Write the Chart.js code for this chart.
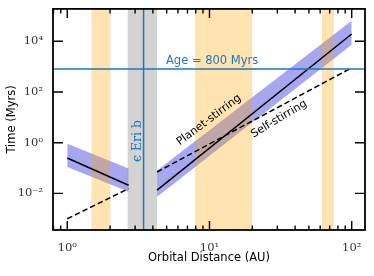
<!DOCTYPE html>
<html><head><meta charset="utf-8">
<script src="https://cdn.jsdelivr.net/npm/chart.js@4/dist/chart.umd.min.js"></script>
<style>html,body{margin:0;padding:0;background:#fff}canvas{display:block}</style>
</head><body>
<canvas id="c" width="374" height="276" style="width:374px;height:276px"></canvas>
<script>
// ---- data ----
const xTickValues = [1, 10, 100];
const yTickValues = [1e-2, 1, 1e2, 1e4];
const xRange = [0.794, 124];
const yRange = [3.6e-4, 1.9e5];

const planetInner = [{x: 1, y: 0.25}, {x: 2.7, y: 0.021}];
const planetOuter = [{x: 4.28, y: 0.0135}, {x: 100, y: 19500}];
const selfInner = [{x: 1, y: 0.001}, {x: 2.7, y: 0.0155}];
const selfOuter = [{x: 4.28, y: 0.07}, {x: 100, y: 900}];
const bandInnerUpper = [{x: 1, y: 0.91}, {x: 2.7, y: 0.095}];
const bandInnerLower = [{x: 1, y: 0.11}, {x: 2.7, y: 0.0115}];
const bandOuterUpper = [{x: 4.28, y: 0.081}, {x: 100, y: 65000}];
const bandOuterLower = [{x: 4.28, y: 0.0074}, {x: 100, y: 7400}];

const beltSpans = [[1.48, 2.01], [7.9, 20], [61.8, 75]];
const planetSpan = [2.66, 4.28];
const planetDistance = 3.44;
const systemAge = 800;

const sup = {'-':'⁻','0':'⁰','1':'¹','2':'²','3':'³','4':'⁴','5':'⁵','6':'⁶','7':'⁷','8':'⁸','9':'⁹'};
function powLabel(v) {
  const e = Math.round(Math.log10(v));
  return '10' + String(e).split('').map(c => sup[c]).join('');
}

const BLUE = '#1f77b4';
const BAND = 'rgba(60,60,220,0.45)';
const ORANGE = 'rgba(255,165,0,0.3)';

const overlay = {
  id: 'overlay',
  beforeDatasetsDraw(chart) {
    const {ctx, chartArea: a, scales: {x}} = chart;
    ctx.save();
    ctx.fillStyle = '#d3d3d3';
    const x0 = x.getPixelForValue(planetSpan[0]), x1 = x.getPixelForValue(planetSpan[1]);
    ctx.fillRect(x0, a.top, x1 - x0, a.bottom - a.top);
    ctx.restore();
  },
  afterDatasetDraw(chart, args) {
    if (!chart.data.datasets[args.index].orangeAfter) return;
    const {ctx, chartArea: a, scales: {x}} = chart;
    ctx.save();
    ctx.fillStyle = ORANGE;
    beltSpans.forEach(s => {
      const x0 = x.getPixelForValue(s[0]), x1 = x.getPixelForValue(s[1]);
      ctx.fillRect(x0, a.top, x1 - x0, a.bottom - a.top);
    });
    ctx.restore();
  },
  afterDatasetsDraw(chart) {
    const {ctx, chartArea: a, scales: {x, y}} = chart;
    ctx.save();
    // reference lines
    ctx.strokeStyle = BLUE; ctx.lineWidth = 1.5;
    const xe = x.getPixelForValue(planetDistance);
    ctx.beginPath(); ctx.moveTo(xe, a.top); ctx.lineTo(xe, a.bottom); ctx.stroke();
    const ya = y.getPixelForValue(systemAge);
    ctx.beginPath(); ctx.moveTo(a.left, ya); ctx.lineTo(a.right, ya); ctx.stroke();
    // texts
    ctx.fillStyle = BLUE;
    ctx.font = '11.5px "DejaVu Sans"';
    ctx.textAlign = 'left'; ctx.textBaseline = 'alphabetic';
    ctx.fillText('Age = 800 Myrs', 166, ya - 5);
    ctx.save();
    ctx.translate(xe - 6, 141);
    ctx.rotate(-Math.PI / 2);
    ctx.font = '12.5px "DejaVu Serif"';
    ctx.textAlign = 'center'; ctx.textBaseline = 'middle';
    ctx.fillText('ϵ Eri b', 0, 0);
    ctx.restore();
    ctx.fillStyle = '#000';
    ctx.font = '11px "DejaVu Sans"';
    ctx.textAlign = 'center'; ctx.textBaseline = 'middle';
    ctx.save(); ctx.translate(209, 120); ctx.rotate(-37 * Math.PI / 180);
    ctx.fillText('Planet-stirring', 0, 0); ctx.restore();
    ctx.save(); ctx.translate(279, 119); ctx.rotate(-31 * Math.PI / 180);
    ctx.fillText('Self-stirring', 0, 0); ctx.restore();
    // frame
    ctx.strokeStyle = '#000'; ctx.lineWidth = 1.8;
    ctx.strokeRect(a.left, a.top, a.right - a.left, a.bottom - a.top);
    // ticks (inward)
    ctx.lineWidth = 1.4;
    const majL = 9, minL = 4.5;
    const lo = Math.floor(Math.log10(xRange[0])), hi = Math.ceil(Math.log10(xRange[1]));
    for (let d = lo; d <= hi; d++) {
      for (let m = 1; m <= 9; m++) {
        const v = m * Math.pow(10, d);
        if (v < xRange[0] || v > xRange[1]) continue;
        const px = x.getPixelForValue(v);
        const L = m === 1 ? majL : minL;
        ctx.beginPath();
        ctx.moveTo(px, a.bottom); ctx.lineTo(px, a.bottom - L);
        ctx.moveTo(px, a.top); ctx.lineTo(px, a.top + L);
        ctx.stroke();
      }
    }
    yTickValues.forEach(v => {
      const py = y.getPixelForValue(v);
      ctx.beginPath();
      ctx.moveTo(a.left, py); ctx.lineTo(a.left + majL + 1, py);
      ctx.moveTo(a.right, py); ctx.lineTo(a.right - majL - 1, py);
      ctx.stroke();
    });
    ctx.restore();
  }
};

const line = (data, dashed) => ({
  data, borderColor: '#000', borderWidth: 1.5, pointRadius: 0, fill: false,
  borderDash: dashed ? [5.5, 3] : [], order: 1, tension: 0
});
const band = (data, fill, extra) => Object.assign({
  data, borderWidth: 0, borderColor: 'rgba(0,0,0,0)', backgroundColor: BAND,
  pointRadius: 0, fill, order: 2
}, extra || {});

new Chart(document.getElementById('c'), {
  type: 'line',
  data: {
    datasets: [
      line(planetInner, false),
      line(planetOuter, false),
      line(selfInner, true),
      line(selfOuter, true),
      band(bandInnerUpper, '+1', {orangeAfter: true}),
      band(bandInnerLower, false),
      band(bandOuterUpper, '+1'),
      band(bandOuterLower, false)
    ]
  },
  options: {
    responsive: false,
    animation: false,
    devicePixelRatio: 1,
    layout: {padding: {left: 0, right: 9, top: 7, bottom: 0}},
    plugins: {legend: {display: false}, tooltip: {enabled: false}},
    scales: {
      x: {
        type: 'logarithmic', min: xRange[0], max: xRange[1],
        afterBuildTicks: s => { s.ticks = xTickValues.map(v => ({value: v})); },
        afterFit: s => { s.height = 46; },
        grid: {display: false}, border: {display: false},
        ticks: {callback: v => powLabel(v), autoSkip: false, maxRotation: 0, padding: 3,
                color: '#333', font: {family: '"DejaVu Serif"', size: 11.5}},
        title: {display: true, text: 'Orbital Distance (AU)', color: '#000',
                font: {family: '"DejaVu Sans"', size: 11.5}, padding: {top: 0, bottom: 11}}
      },
      y: {
        type: 'logarithmic', min: yRange[0], max: yRange[1],
        afterBuildTicks: s => { s.ticks = yTickValues.map(v => ({value: v})); },
        afterFit: s => { s.width = 53; },
        grid: {display: false}, border: {display: false},
        ticks: {callback: v => powLabel(v), autoSkip: false, padding: 2,
                color: '#333', font: {family: '"DejaVu Serif"', size: 11.5}},
        title: {display: true, text: 'Time (Myrs)', color: '#000',
                font: {family: '"DejaVu Sans"', size: 11.5}, padding: {top: 5, bottom: 0}}
      }
    }
  },
  plugins: [overlay]
});
</script>
</body></html>
